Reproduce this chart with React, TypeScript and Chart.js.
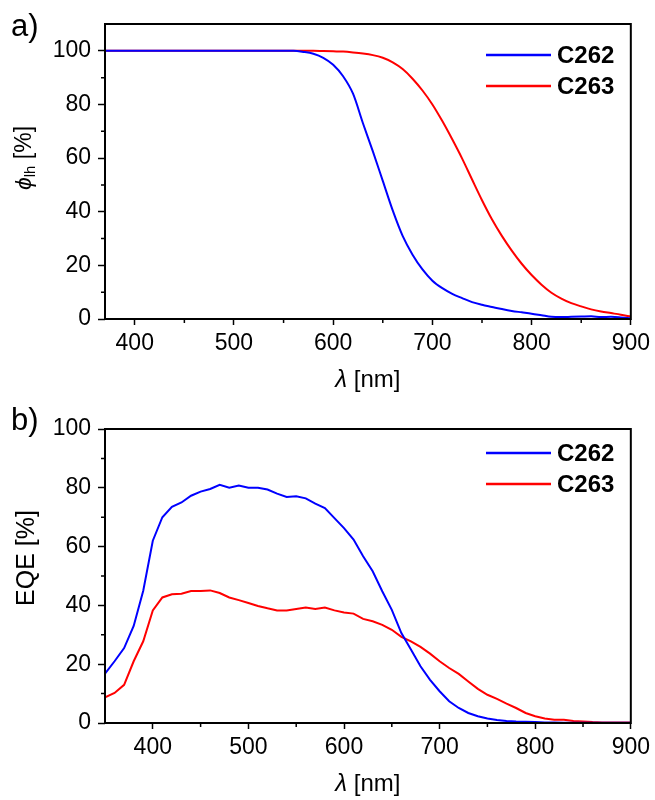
import React, { useEffect, useRef } from "react";
import { Chart, registerables } from "chart.js";

Chart.register(...registerables);

// ---------- data ----------
const WL_A = [370, 380, 390, 400, 410, 420, 430, 440, 450, 460, 470, 480, 490, 500, 510, 520, 530, 540, 550, 560, 570, 580, 590, 600, 610, 620, 630, 640, 650, 660, 670, 680, 690, 700, 710, 720, 730, 740, 750, 760, 770, 780, 790, 800, 810, 820, 830, 840, 850, 860, 870, 880, 890, 900];

const PHI_C262 = [100, 100, 100, 100, 100, 100, 100, 100, 100, 100, 100, 100, 100, 100, 100, 100, 100, 100, 100, 100, 99.6, 98.9, 97.4, 94.8, 90.5, 84, 73, 62.5, 51.5, 40.5, 31, 24, 18.5, 14.3, 11.5, 9.4, 7.8, 6.3, 5.3, 4.5, 3.7, 3.0, 2.5, 2.0, 1.4, 0.8, 0.7, 0.8, 0.9, 1.0, 0.7, 0.8, 0.6, 0.3];

const PHI_C263 = [100, 100, 100, 100, 100, 100, 100, 100, 100, 100, 100, 100, 100, 100, 100, 100, 100, 100, 100, 100, 100, 100, 99.9, 99.8, 99.7, 99.4, 99, 98.4, 97.4, 95.7, 93.2, 89.6, 85.2, 80, 73.8, 67, 59.8, 52, 44.3, 37.2, 31, 25.5, 20.6, 16.4, 12.8, 9.8, 7.6, 5.9, 4.7, 3.6, 2.8, 2.2, 1.6, 0.9];

const WL_B = [350, 360, 370, 380, 390, 400, 410, 420, 430, 440, 450, 460, 470, 480, 490, 500, 510, 520, 530, 540, 550, 560, 570, 580, 590, 600, 610, 620, 630, 640, 650, 660, 670, 680, 690, 700, 710, 720, 730, 740, 750, 760, 770, 780, 790, 800, 810, 820, 830, 840, 850, 860, 870, 880, 890, 900];

const EQE_C262 = [16.8, 21, 25.5, 33, 45, 62, 70, 73.5, 75, 77.3, 78.7, 79.6, 81, 80, 80.8, 80, 80, 79.4, 78, 76.9, 77.1, 76.4, 74.6, 73.1, 69.7, 66.3, 62.4, 56.7, 51.6, 44.8, 38.5, 30.6, 25, 19.3, 14.7, 10.8, 7.4, 5.1, 3.4, 2.3, 1.5, 1.0, 0.7, 0.5, 0.4, 0.3, 0.2, 0.2, 0.1, 0.1, 0.1, 0.1, 0.1, 0.1, 0.1, 0.1];

const EQE_C263 = [8.7, 10.2, 13, 21, 27.8, 38.3, 42.7, 43.8, 44, 44.9, 44.9, 45.1, 44.2, 42.7, 41.8, 40.8, 39.8, 39, 38.3, 38.3, 38.8, 39.3, 38.8, 39.3, 38.3, 37.6, 37.2, 35.4, 34.6, 33.4, 31.7, 29.3, 27.8, 25.9, 23.6, 21, 18.7, 16.7, 14.1, 11.6, 9.6, 8.2, 6.6, 5.1, 3.4, 2.3, 1.5, 1.1, 1.1, 0.7, 0.5, 0.3, 0.2, 0.2, 0.2, 0.2];

const SERIES_NAMES = ["C262", "C263"];
const SERIES_COLORS = ["#0000ff", "#ff0000"];

const X_TICKS = [400, 500, 600, 700, 800, 900];
const X_MINOR = [450, 550, 650, 750, 850];
const Y_TICKS = [0, 20, 40, 60, 80, 100];
const Y_MINOR = [10, 30, 50, 70, 90];

const FONT = '"Liberation Sans", Arial, Helvetica, sans-serif';

type TitlePart = { text: string; font: string; dy?: number };

type PanelSpec = {
  label: string;
  wl: number[];
  series: number[][];
  xMin: number;
  xMax: number;
  yMax: number;
  padTop: number;
  xAxisHeight: number;
  tension: number;
  yTitle: TitlePart[];
  yTitleX: number;
  yTitleY: number;
  xTitleY: number;
  legendY: number[];
  labelY: number;
};

function drawParts(ctx: CanvasRenderingContext2D, parts: TitlePart[], x: number, y: number) {
  let total = 0;
  for (const p of parts) {
    ctx.font = p.font;
    total += ctx.measureText(p.text).width;
  }
  let cx = x - total / 2;
  ctx.textAlign = "left";
  ctx.textBaseline = "middle";
  for (const p of parts) {
    ctx.font = p.font;
    ctx.fillText(p.text, cx, y + (p.dy || 0));
    cx += ctx.measureText(p.text).width;
  }
}

function decorPlugin(spec: PanelSpec) {
  return {
    id: "decor",
    afterDraw(chart: any) {
      const ctx: CanvasRenderingContext2D = chart.ctx;
      const { left, right, top, bottom } = chart.chartArea;
      const xs = chart.scales.x;
      const ys = chart.scales.y;
      ctx.save();
      ctx.strokeStyle = "#000";
      ctx.fillStyle = "#000";
      // frame
      ctx.lineWidth = 2;
      ctx.strokeRect(left, top, right - left, bottom - top);
      // minor ticks
      ctx.lineWidth = 1.5;
      ctx.beginPath();
      for (const v of X_MINOR) {
        const px = xs.getPixelForValue(v);
        ctx.moveTo(px, bottom);
        ctx.lineTo(px, bottom + 4);
      }
      for (const v of Y_MINOR) {
        const py = ys.getPixelForValue(v);
        ctx.moveTo(left, py);
        ctx.lineTo(left - 4, py);
      }
      ctx.stroke();
      // x title
      drawParts(
        ctx,
        [
          { text: "λ", font: `italic 24px ${FONT}` },
          { text: " [nm]", font: `24px ${FONT}` },
        ],
        (left + right) / 2,
        spec.xTitleY
      );
      // y title
      ctx.save();
      ctx.translate(spec.yTitleX, spec.yTitleY);
      ctx.rotate(-Math.PI / 2);
      drawParts(ctx, spec.yTitle, 0, 0);
      ctx.restore();
      // legend
      for (let i = 0; i < SERIES_NAMES.length; i++) {
        const ly = spec.legendY[i];
        ctx.strokeStyle = SERIES_COLORS[i];
        ctx.lineWidth = 2.5;
        ctx.beginPath();
        ctx.moveTo(486, ly);
        ctx.lineTo(551, ly);
        ctx.stroke();
        ctx.fillStyle = "#000";
        ctx.font = `bold 24px ${FONT}`;
        ctx.textAlign = "left";
        ctx.textBaseline = "middle";
        ctx.fillText(SERIES_NAMES[i], 557, ly + 1);
      }
      // panel label
      ctx.font = `31px ${FONT}`;
      ctx.textAlign = "left";
      ctx.textBaseline = "middle";
      ctx.fillText(spec.label, 11, spec.labelY);
      ctx.restore();
    },
  };
}

function buildConfig(spec: PanelSpec): any {
  const tickFont = { family: FONT, size: 23 };
  return {
    type: "line",
    data: {
      datasets: spec.series.map((vals, i) => ({
        label: SERIES_NAMES[i],
        data: spec.wl.map((x, j) => ({ x, y: vals[j] })),
        borderColor: SERIES_COLORS[i],
        backgroundColor: SERIES_COLORS[i],
        borderWidth: 2,
        pointRadius: 0,
        fill: false,
        tension: spec.tension,
        cubicInterpolationMode: spec.tension > 0 ? "monotone" : "default",
      })),
    },
    options: {
      responsive: false,
      animation: false,
      devicePixelRatio: 1,
      layout: { padding: { top: spec.padTop, right: 22, left: 0, bottom: 0 } },
      plugins: { legend: { display: false }, tooltip: { enabled: false } },
      scales: {
        x: {
          type: "linear",
          min: spec.xMin,
          max: spec.xMax,
          afterBuildTicks: (s: any) => {
            s.ticks = X_TICKS.map((v) => ({ value: v }));
          },
          afterFit: (s: any) => {
            s.height = spec.xAxisHeight;
          },
          ticks: { font: tickFont, color: "#000", padding: 5, maxRotation: 0, autoSkip: false },
          grid: { drawOnChartArea: false, drawTicks: true, tickLength: 6, tickWidth: 1.5, tickColor: "#000" },
          border: { display: false },
        },
        y: {
          type: "linear",
          min: 0,
          max: spec.yMax,
          afterBuildTicks: (s: any) => {
            s.ticks = Y_TICKS.map((v) => ({ value: v }));
          },
          afterFit: (s: any) => {
            s.width = 105;
          },
          ticks: { font: tickFont, color: "#000", padding: 7, autoSkip: false },
          grid: { drawOnChartArea: false, drawTicks: true, tickLength: 7, tickWidth: 1.5, tickColor: "#000" },
          border: { display: false },
        },
      },
    },
    plugins: [decorPlugin(spec)],
  };
}

const PANEL_A: PanelSpec = {
  label: "a)",
  wl: WL_A,
  series: [PHI_C262, PHI_C263],
  xMin: 370,
  xMax: 900,
  yMax: 110,
  padTop: 24,
  xAxisHeight: 81,
  tension: 0.4,
  yTitle: [
    { text: "ϕ", font: `italic 23px ${FONT}` },
    { text: "lh", font: `15px ${FONT}`, dy: 6 },
    { text: " [%]", font: `23px ${FONT}` },
  ],
  yTitleX: 25,
  yTitleY: 158,
  xTitleY: 380,
  legendY: [55, 86],
  labelY: 27,
};

const PANEL_B: PanelSpec = {
  label: "b)",
  wl: WL_B,
  series: [EQE_C262, EQE_C263],
  xMin: 350,
  xMax: 900,
  yMax: 100,
  padTop: 29,
  xAxisHeight: 77,
  tension: 0,
  yTitle: [{ text: "EQE [%]", font: `25px ${FONT}` }],
  yTitleX: 27,
  yTitleY: 158,
  xTitleY: 384,
  legendY: [53, 84],
  labelY: 21,
};

function Panel({ spec }: { spec: PanelSpec }) {
  const ref = useRef<HTMLCanvasElement>(null);
  useEffect(() => {
    const chart = new Chart(ref.current as HTMLCanvasElement, buildConfig(spec));
    return () => chart.destroy();
  }, [spec]);
  return (
    <canvas
      ref={ref}
      width={655}
      height={400}
      style={{ display: "block", width: 655, height: 400 }}
    />
  );
}

export default function App() {
  return (
    <div
      style={{
        position: "fixed",
        left: 0,
        top: 0,
        width: 655,
        height: 800,
        background: "#fff",
        overflow: "hidden",
      }}
    >
      <Panel spec={PANEL_A} />
      <Panel spec={PANEL_B} />
    </div>
  );
}
